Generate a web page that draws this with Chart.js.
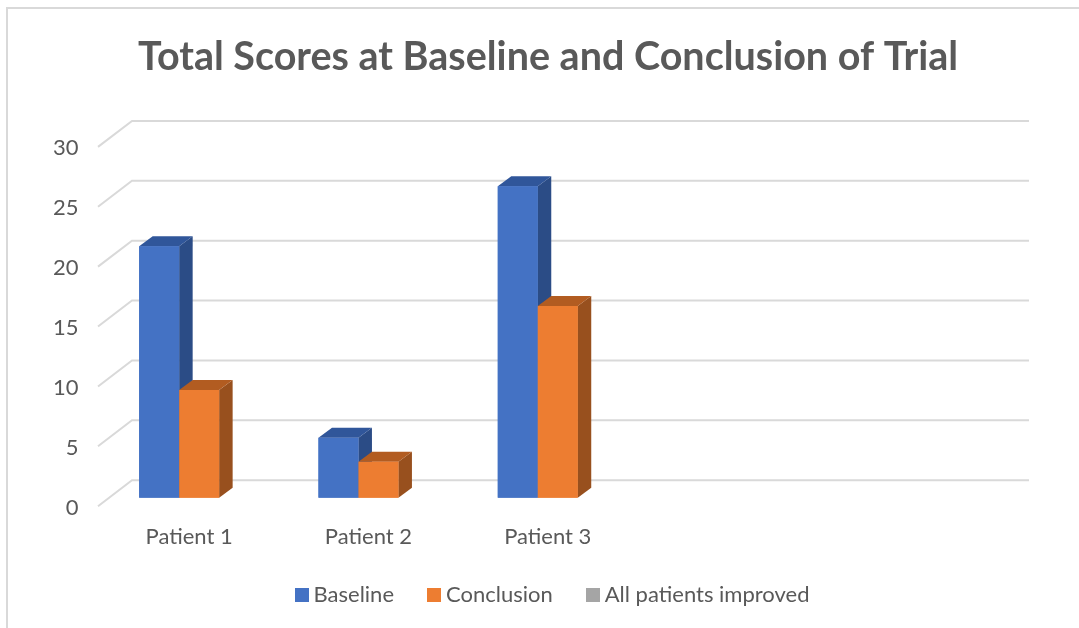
<!DOCTYPE html>
<html>
<head>
    <title>Total Scores at Baseline and Conclusion of Trial</title>
    <script src="https://cdn.jsdelivr.net/npm/chart.js"></script>
    <style>
        body { margin: 0; padding: 0; background-color: white; }
        #chart-box { position: relative; width: 1079px; height: 628px; overflow: hidden; }
        canvas { display: block; }
    </style>
</head>
<body>
    <div id="chart-box"><canvas id="scores"></canvas></div>
    <script>
        const categories = ['Patient 1', 'Patient 2', 'Patient 3', '', ''];
        const baseline = [21, 5, 26];
        const conclusion = [9, 3, 16];
        const improved = [];
        const yMax = 30;
        const yStep = 5;

        const textColor = '#595959';
        const gridColor = '#D9D9D9';
        const fontName = 'Lato, sans-serif';

        // front colour -> [side, top]
        const shades = {
            '#4472C4': ['#2B4C86', '#30569A'],
            '#ED7D31': ['#98501E', '#B25C21']
        };

        // legend square as an image, the default one sits too far from its text
        function legendSquare(color) {
            const c = document.createElement('canvas');
            c.width = 14;
            c.height = 14;
            const g = c.getContext('2d');
            g.fillStyle = color;
            g.fillRect(0, 0, 14, 14);
            return c;
        }

        // fake 3D: chart.js has no 3d bars, so walls and bar sides are added here
        const threeD = {
            id: 'threeD',
            afterLayout(chart) {
                // tick labels get clipped to the axis box, so stretch it to the left
                chart.scales.y.left = 0;
                // title is centred a bit left of the legend
                chart.titleBlock.left -= 7;
                chart.titleBlock.right -= 7;
            },
            beforeDatasetsDraw(chart) {
                const ctx = chart.ctx;
                const y = chart.scales.y;
                const left = chart.chartArea.left;
                ctx.save();
                // chart frame, top and left only
                ctx.strokeStyle = gridColor;
                ctx.lineWidth = 2;
                ctx.beginPath();
                ctx.moveTo(7, 628);
                ctx.lineTo(7, 8);
                ctx.lineTo(1079, 8);
                ctx.stroke();
                y.ticks.forEach(t => {
                    const py = y.getPixelForValue(t.value);
                    ctx.beginPath();
                    ctx.moveTo(left - 11.5, py + 8.5);
                    ctx.lineTo(left + 22.5, py - 17.5);
                    ctx.lineTo(1029, py - 17.5);
                    ctx.stroke();
                });
                ctx.restore();
            },
            afterDatasetsDraw(chart) {
                const ctx = chart.ctx;
                const dx = 13.5, dy = 10;
                chart.data.datasets.forEach((ds, i) => {
                    const s = shades[ds.backgroundColor];
                    if (!s) return;
                    chart.getDatasetMeta(i).data.forEach((bar, j) => {
                        if (ds.data[j] == null) return;
                        const r = bar.x + bar.width / 2;
                        const l = bar.x - bar.width / 2;
                        ctx.fillStyle = s[0];
                        ctx.beginPath();
                        ctx.moveTo(r, bar.y);
                        ctx.lineTo(r + dx, bar.y - dy);
                        ctx.lineTo(r + dx, bar.base - dy);
                        ctx.lineTo(r, bar.base);
                        ctx.fill();
                        ctx.fillStyle = s[1];
                        ctx.beginPath();
                        ctx.moveTo(l, bar.y);
                        ctx.lineTo(l + dx, bar.y - dy);
                        ctx.lineTo(r + dx, bar.y - dy);
                        ctx.lineTo(r, bar.y);
                        ctx.fill();
                        bar.draw(ctx);
                    });
                });
            }
        };

        new Chart(document.getElementById('scores'), {
            type: 'bar',
            data: {
                labels: categories,
                datasets: [
                    { label: 'Baseline', data: baseline, backgroundColor: '#4472C4' },
                    { label: 'Conclusion', data: conclusion, backgroundColor: '#ED7D31' },
                    { label: 'All patients improved', data: improved, backgroundColor: '#A5A5A5' }
                ]
            },
            options: {
                responsive: true,
                maintainAspectRatio: false,
                animation: false,
                layout: { padding: { left: 104, right: 73, top: 0, bottom: 12 } },
                datasets: { bar: { barPercentage: 1, categoryPercentage: 0.669 } },
                plugins: {
                    title: {
                        display: true,
                        text: 'Total Scores at Baseline and Conclusion of Trial',
                        color: textColor,
                        font: { family: fontName, size: 39.5, weight: 'bold' },
                        padding: { top: 34, bottom: 57 }
                    },
                    legend: {
                        position: 'bottom',
                        labels: {
                            color: textColor,
                            font: { family: fontName, size: 22 },
                            usePointStyle: true,
                            pointStyleWidth: 2,
                            padding: 39,
                            generateLabels: chart => Chart.defaults.plugins.legend.labels.generateLabels(chart)
                                .map(item => ({ ...item, pointStyle: legendSquare(item.fillStyle) }))
                        }
                    },
                    tooltip: { enabled: false }
                },
                scales: {
                    x: {
                        grid: { display: false, drawTicks: false },
                        border: { display: false },
                        afterFit: s => { s.height = 47.3; },
                        ticks: {
                            color: textColor,
                            font: { family: fontName, size: 22 },
                            padding: 26,
                            labelOffset: -10,
                            maxRotation: 0,
                            autoSkip: false
                        }
                    },
                    y: {
                        min: 0,
                        max: yMax,
                        grid: { display: false, drawTicks: false },
                        border: { display: false },
                        afterFit: s => { s.width = 5.5; },
                        ticks: {
                            stepSize: yStep,
                            color: textColor,
                            font: { family: fontName, size: 22 },
                            padding: 31,
                            labelOffset: 10
                        }
                    }
                }
            },
            plugins: [threeD]
        });
    </script>
</body>
</html>
